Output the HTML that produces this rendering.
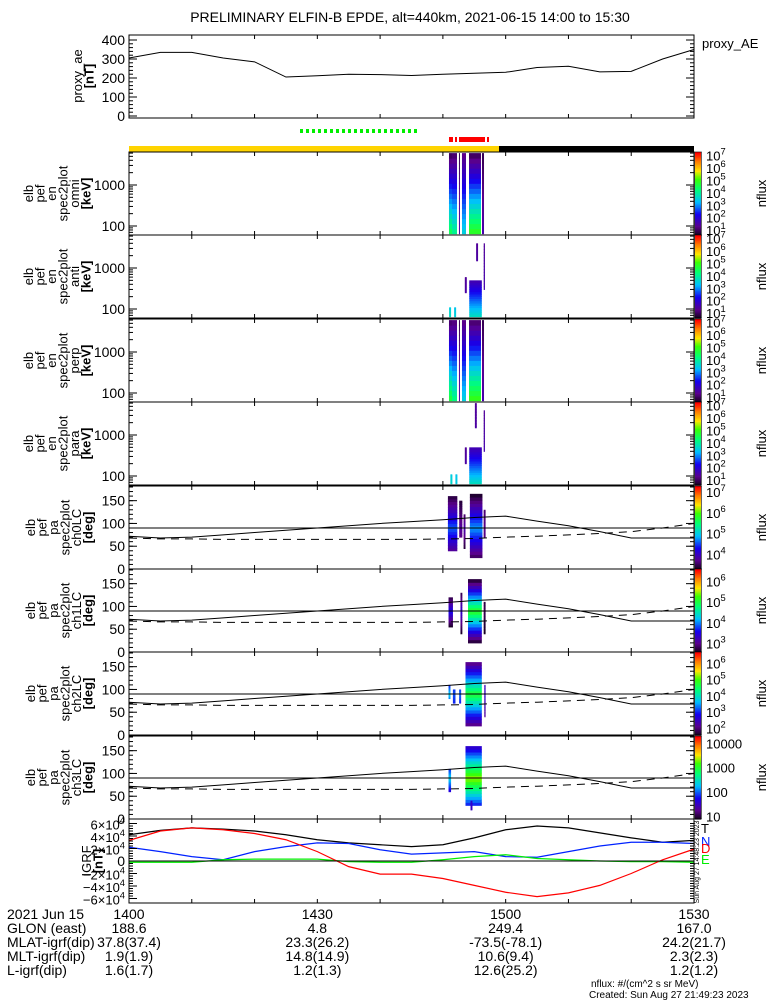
<!DOCTYPE html>
<html><head><meta charset="utf-8"><style>
body{margin:0;background:#fff;}
svg{display:block;font-family:"Liberation Sans",sans-serif;}
</style></head><body>
<svg id="chart" width="775" height="1000" viewBox="0 0 775 1000"></svg>
<script>
// ---------- DATA ----------
const aeTimes = [0,5,10,15,20,25,30,35,40,45,50,55,60,65,70,75,80,85,90];
const aeValues = [305,335,335,305,285,205,212,220,218,213,220,225,230,255,262,232,235,300,350];
const lineTimes = [0,5,10,15,20,25,30,35,40,45,50,55,60,65,70,75,80,85,90];
const igrfTotal = [42000,49000,53000,51000,48000,42000,34000,29000,26000,23000,26000,37000,50000,56000,53000,45000,37000,30000,33000];
const igrfDown  = [33000,48000,53000,50000,44000,34000,15000,-9000,-21000,-21000,-28000,-39000,-50000,-57000,-51000,-39000,-20000,2000,19000];
const igrfNorth = [22000,15000,7000,2000,15000,23000,29000,28000,18000,11000,13000,15000,7000,6000,15000,24000,30000,30000,28000];
const igrfEast  = [-2000,-2000,-2000,2000,3000,3000,3000,-1000,-2000,-2000,2000,7000,10000,4000,2000,0,-1000,-1000,-2000];
const paSolid  = [72,68,70,75,80,85,90,95,100,104,108,113,116,105,95,82,68,68,68];
const paDashed = [68,66,66,65,65,65,65,65,65,65,66,67,70,72,75,78,82,90,100];
// spectrogram columns: [tStart, tEnd, logFluxLowE, logFluxHighE, Emin, Emax]
const specOmni = [[50.97,51.45,4.6,0.9,65,6000],[51.45,52.25,4.2,1.0,65,6000],[52.56,52.72,1.6,0.9,65,6000],[53.04,53.68,3.6,1.2,65,6000],[54.16,56.07,5.0,0.9,65,6000],[56.23,56.55,1.6,0.9,65,6000]];
const specAnti = [[51.0,51.3,3.8,3.5,65,110],[51.8,52.1,3.6,3.4,65,110],[54.2,56.2,3.8,1.6,65,500],[56.5,56.7,1.6,1.4,300,4000],[55.3,55.6,1.5,1.4,1500,4000],[53.5,53.8,1.5,1.4,250,600]];
const specPerp = [[50.97,51.45,4.8,1.0,65,6000],[51.45,52.25,4.3,1.1,65,6000],[52.56,52.72,1.6,0.9,65,6000],[53.04,53.68,3.6,1.2,65,6000],[54.16,56.07,5.1,1.0,65,6000],[56.23,56.55,1.6,0.9,65,6000]];
const specPara = [[51.2,51.5,3.7,3.5,65,110],[52.0,52.3,3.5,3.4,65,110],[54.2,56.2,3.8,1.6,65,500],[56.5,56.7,1.6,1.4,400,4000],[55.1,55.4,1.5,1.4,1500,6000],[53.5,53.8,1.5,1.4,200,500]];
// pitch columns: [tStart, tEnd, paLow, paHigh, logFluxCenter, logFluxEdge]
const pitch0 = [[50.8,52.3,40,160,4.6,3.4],[52.6,53.1,70,150,3.8,3.4],[53.3,53.6,45,120,3.9,3.4],[54.3,56.3,25,165,4.8,3.3],[56.5,56.8,70,130,3.7,3.6]];
const pitch1 = [[50.9,51.6,55,120,3.6,2.6],[52.8,53.1,40,130,3.4,2.6],[54.0,56.2,20,160,5.2,2.6],[56.5,56.8,40,110,2.8,2.6]];
const pitch2 = [[50.9,51.2,80,110,3.8,3.0],[51.6,52.0,70,100,3.2,3.0],[52.6,52.9,70,100,3.3,3.0],[53.6,56.2,20,160,4.8,2.0],[56.6,56.8,40,110,2.6,2.2]];
const pitch3 = [[50.9,51.3,60,110,2.4,1.6],[53.6,56.2,30,160,3.4,1.5],[54.4,54.7,20,40,1.8,1.5]];
const cbarLabels = [[1,2,3,4,5,6,7],[1,2,3,4,5,6,7],[1,2,3,4,5,6,7],[1,2,3,4,5,6,7],[4,5,6,7],[3,4,5,6],[2,3,4,5,6],[1,2,3,4]];
const cbarRanges = [[0.6,7.3],[0.6,7.3],[0.6,7.3],[0.6,7.3],[3.3,7.3],[2.6,6.6],[1.6,6.7],[0.9,4.3]];
const specSets = [specOmni,specAnti,specPerp,specPara];
const pitchSets = [pitch0,pitch1,pitch2,pitch3];

// ---------- HELPERS ----------
const svg = document.getElementById('chart');
const NS = 'http://www.w3.org/2000/svg';
function mk(tag, attrs, parent){const e=document.createElementNS(NS,tag);for(const k in attrs)e.setAttribute(k,attrs[k]);(parent||svg).appendChild(e);return e;}
const X0=129, X1=694;
function xs(t){return X0+t/90*(X1-X0);}
function cmap(f){f=Math.max(0,Math.min(1,f));
 const st=[[0,[20,0,30]],[0.1,[90,0,140]],[0.25,[20,0,240]],[0.4,[0,190,255]],[0.55,[0,255,120]],[0.68,[60,255,0]],[0.78,[255,230,0]],[0.9,[255,120,0]],[1,[255,0,0]]];
 for(let i=1;i<st.length;i++){if(f<=st[i][0]){const a=st[i-1],b=st[i],u=(f-a[0])/(b[0]-a[0]);return 'rgb('+[0,1,2].map(j=>Math.round(a[1][j]+u*(b[1][j]-a[1][j]))).join(',')+')';}}return 'rgb(255,0,0)';}
function txt(x,y,s,opts){const t=mk('text',Object.assign({x:x,y:y,'font-size':13,fill:'#000'},opts||{}));t.textContent=s;return t;}
function frame(T,B,name){
 const r=mk('rect',{x:X0,y:T,width:X1-X0,height:B-T,fill:'none',stroke:'#000','stroke-width':1});
 
 
 for(let t=10;t<90;t+=10){mk('line',{x1:xs(t),x2:xs(t),y1:B,y2:B-4,stroke:'#000'});mk('line',{x1:xs(t),x2:xs(t),y1:T,y2:T+4,stroke:'#000'});}
}
function yticks(T,B,vals,ymap,labelFn,minor){
 for(const v of minor){const y=ymap(v);if(y<T||y>B)continue;mk('line',{x1:X0,x2:X0+4,y1:y,y2:y,stroke:'#000'});mk('line',{x1:X1,x2:X1-4,y1:y,y2:y,stroke:'#000'});}
 for(const v of vals){const y=ymap(v);mk('line',{x1:X0,x2:X0+8,y1:y,y2:y,stroke:'#000'});mk('line',{x1:X1,x2:X1-8,y1:y,y2:y,stroke:'#000'});
  const l=txt(125,y+5,labelFn(v),{'text-anchor':'end','font-size':14});
  
  }
}
function sideLabel(lines,xStart,yc,name){
 const g=mk('g',{});
 
 
 lines.forEach((s,i)=>{const x=xStart+i*11.5;const t=txt(x,yc,s,{'text-anchor':'middle','font-size':13,transform:'rotate(-90 '+x+' '+yc+')','font-weight':s.startsWith('[')?'bold':'normal'});g.appendChild(t);});
}
function sup(x,y,base,exp,anchor,size){
 const t=mk('text',{x:x,y:y,'font-size':size||13,'text-anchor':anchor||'start'});
 t.appendChild(document.createTextNode(base));
 const s=document.createElementNS(NS,'tspan');s.setAttribute('dy',-6);s.setAttribute('font-size',(size||13)*0.72);s.textContent=exp;t.appendChild(s);return t;
}
function colorbar(T,B,rng,labs,idx){
 const g=mk('g',{});
 
 
 const n=60;for(let i=0;i<n;i++){const y0=B-(i+1)*(B-T)/n;mk('rect',{x:695,y:y0,width:6,height:(B-T)/n+0.6,fill:cmap(i/(n-1))},g);}
 mk('rect',{x:694.5,y:T,width:7,height:B-T,fill:'none',stroke:'#000','stroke-width':0.6},g);
 for(const L of labs){const y=B-(L-rng[0])/(rng[1]-rng[0])*(B-T);
  if(idx===7){const t=txt(706,y+5,String(Math.pow(10,L)),{'font-size':13});g.appendChild(t);}
  else{const t=sup(706,y+5,'10',String(L),'start',13);g.appendChild(t);}}
 const yc=(T+B)/2;const t=txt(766,yc,'nflux',{'text-anchor':'middle',transform:'rotate(-90 766 '+yc+')'});g.appendChild(t);
}

// ---------- TITLE ----------
const title=txt(410,22,'PRELIMINARY ELFIN-B EPDE, alt=440km, 2021-06-15 14:00 to 15:30',{'text-anchor':'middle','font-size':14});



// ---------- AE PANEL ----------
const aeT=35, aeB=118;
const aeY=v=>116-v*0.19;
frame(aeT,aeB,'proxy-ae-panel');
yticks(aeT,aeB,[0,100,200,300,400],aeY,v=>String(v),Array.from({length:21},(_,i)=>i*20));
const aePath=mk('polyline',{points:aeTimes.map((t,i)=>xs(t)+','+aeY(aeValues[i])).join(' '),fill:'none',stroke:'#000','stroke-width':1});


sideLabel(['proxy_ae','[nT]'],82,76,'proxy-ae-axis-title');
const aeLeg=txt(702,48,'proxy_AE',{'font-size':13});



// ---------- STATUS BARS ----------
const gdots=mk('g',{});


for(let x=300;x<416;x+=6)mk('rect',{x:x,y:129,width:3,height:4,fill:'#00ee00'},gdots);
const red=mk('g',{});


mk('rect',{x:449,y:137,width:4,height:5,fill:'#f00'},red);mk('rect',{x:455,y:137,width:2,height:5,fill:'#f00'},red);mk('rect',{x:459,y:137,width:26,height:5,fill:'#f00'},red);mk('rect',{x:487,y:137,width:2,height:5,fill:'#f00'},red);
const ybar=mk('rect',{x:X0,y:146,width:499-X0,height:6,fill:'#ffd400'});


const bbar=mk('rect',{x:499,y:146,width:X1-499,height:6,fill:'#000'});



// ---------- SPECTROGRAM PANELS ----------
const tops=[152,235,319,402,486,569,652,736];
const specNames=['omni','anti','perp','para'];
specSets.forEach((cols,p)=>{
 const T=tops[p],B=tops[p]+83;const rng=cbarRanges[p];
 const yE=E=>T+33-41*(Math.log10(E)-3);
 const g=mk('g',{});
 
 
 cols.forEach(c=>{const nb=16;const l0=Math.log10(c[4]),l1=Math.log10(c[5]);
  for(let i=0;i<nb;i++){const la=l0+(l1-l0)*i/nb,lb=l0+(l1-l0)*(i+1)/nb;const v=c[2]+(c[3]-c[2])*(i+0.5)/nb;
   const ya=Math.min(B,yE(Math.pow(10,la))),yb=Math.max(T,yE(Math.pow(10,lb)));
   mk('rect',{x:xs(c[0]),y:yb,width:Math.max(1,xs(c[1])-xs(c[0])),height:ya-yb+0.5,fill:cmap((v-rng[0])/(rng[1]-rng[0]))},g);}});
 frame(T,B,'spectrogram-'+specNames[p]);
 const minor=[];for(let d=1;d<4;d++)for(let m=1;m<10;m++)minor.push(m*Math.pow(10,d));
 yticks(T,B,[100,1000],yE,v=>String(v),minor);
 sideLabel(['elb','pef','en','spec2plot',specNames[p],'[keV]'],33,(T+B)/2,'axis-title-'+specNames[p]);
 colorbar(T,B,rng,cbarLabels[p],p);
});

// ---------- PITCH PANELS ----------
pitchSets.forEach((cols,k)=>{
 const p=k+4;const T=tops[p],B=tops[p]+83;const rng=cbarRanges[p];
 const yP=a=>B-a/180*(B-T-1);
 const g=mk('g',{});
 
 
 cols.forEach(c=>{const nb=20;for(let i=0;i<nb;i++){const a0=c[2]+(c[3]-c[2])*i/nb,a1=c[2]+(c[3]-c[2])*(i+1)/nb;const am=(a0+a1)/2;
   const half=Math.max(90-c[2],c[3]-90);const v=c[4]+(c[5]-c[4])*Math.min(1,Math.abs(am-90)/half);
   mk('rect',{x:xs(c[0]),y:yP(a1),width:Math.max(1,xs(c[1])-xs(c[0])),height:yP(a0)-yP(a1)+0.5,fill:cmap((v-rng[0])/(rng[1]-rng[0]))},g);}});
 const sl=mk('polyline',{points:lineTimes.map((t,i)=>xs(t)+','+yP(paSolid[i])).join(' '),fill:'none',stroke:'#000'});
 
 
 const dl=mk('polyline',{points:lineTimes.map((t,i)=>xs(t)+','+yP(paDashed[i])).join(' '),fill:'none',stroke:'#000','stroke-dasharray':'8,6'});
 
 
 const h=mk('line',{x1:X0,x2:X1,y1:yP(90),y2:yP(90),stroke:'#000'});
 
 
 frame(T,B,'pitch-panel-ch'+k);
 yticks(T,B,[0,50,100,150],yP,v=>String(v),Array.from({length:19},(_,i)=>i*10));
 sideLabel(['elb','pef','pa','spec2plot','ch'+k+'LC','[deg]'],35,(T+B)/2,'axis-title-ch'+k);
 colorbar(T,B,rng,cbarLabels[p],p);
});

// ---------- IGRF PANEL ----------
const iT=819,iB=903;
const yI=v=>861-v/60000*37.5;
const series=[[igrfTotal,'#000','igrf-total-line'],[igrfNorth,'#0022ff','igrf-north-line'],[igrfEast,'#00ee00','igrf-east-line'],[igrfDown,'#ff0000','igrf-down-line']];
series.forEach(s=>{const pl=mk('polyline',{points:lineTimes.map((t,i)=>xs(t)+','+yI(s[0][i])).join(' '),fill:'none',stroke:s[1],'stroke-width':1.2});
 
 });
const zl=mk('line',{x1:X0,x2:X1,y1:yI(0),y2:yI(0),stroke:'#000'});


frame(iT,iB,'igrf-panel');
const iv=[-60000,-40000,-20000,0,20000,40000,60000];
const minorI=Array.from({length:31},(_,i)=>-60000+i*4000);
for(const v of minorI){const y=yI(v);mk('line',{x1:X0,x2:X0+4,y1:y,y2:y,stroke:'#000'});mk('line',{x1:X1,x2:X1-4,y1:y,y2:y,stroke:'#000'});}
for(const v of iv){const y=yI(v);mk('line',{x1:X0,x2:X0+8,y1:y,y2:y,stroke:'#000'});
 if(v===0){txt(125,y+5,'0',{'text-anchor':'end','font-size':14});}
 else{sup(125,y+6,(v<0?'\u2212':'')+Math.abs(v/10000)+'\u00d710','4','end',13);}}
sideLabel(['IGRF','[nT]'],91,861,'igrf-axis-title');
[['T','#000',833],['N','#0022ff',846],['D','#ff0000',853],['E','#00ee00',864]].forEach(l=>{const t=txt(701,l[2],l[0],{fill:l[1],'font-size':13});
 
 });
txt(699,862,'Sun Aug 27 14:48:23 2023',{'font-size':7,'text-anchor':'middle',transform:'rotate(-90 699 862)'});

// ---------- BOTTOM ANNOTATIONS ----------
const rows=[['2021 Jun 15',['1400','1430','1500','1530']],['GLON (east)',['188.6','4.8','249.4','167.0']],['MLAT-igrf(dip)',['37.8(37.4)','23.3(26.2)','-73.5(-78.1)','24.2(21.7)']],['MLT-igrf(dip)',['1.9(1.9)','14.8(14.9)','10.6(9.4)','2.3(2.3)']],['L-igrf(dip)',['1.6(1.7)','1.2(1.3)','12.6(25.2)','1.2(1.2)']]];
const rowY=[919,933,947,961,975];
const ann=mk('g',{});


rows.forEach((r,i)=>{ann.appendChild(txt(7,rowY[i],r[0],{'font-size':14}));
 r[1].forEach((s,j)=>{ann.appendChild(txt(xs(j*30),rowY[i],s,{'font-size':14,'text-anchor':'middle'}));});});
const f1=txt(591,987,'nflux: #/(cm^2 s sr MeV)',{'font-size':10});


const f2=txt(589,998,'Created: Sun Aug 27 21:49:23 2023',{'font-size':10});


</script>
</body></html>
